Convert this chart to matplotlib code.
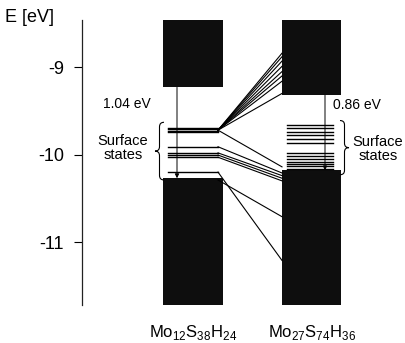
import numpy as np
import matplotlib
matplotlib.use("Agg")
import matplotlib.pyplot as plt
from matplotlib.path import Path
from matplotlib.patches import PathPatch

plt.rcParams['font.family'] = ['Liberation Sans', 'DejaVu Sans']
plt.rcParams['mathtext.fontset'] = 'custom'
plt.rcParams['mathtext.rm'] = 'Liberation Sans'

# energy range shown on the axis (eV)
e_top, e_bottom = -8.46, -11.72
y_ticks = [-9, -10, -11]
y_ticklabels = ['-9', '-10', '-11']

# band edges (LUMO band bottom / HOMO band top), eV
clusters = ['Mo$_{12}$S$_{38}$H$_{24}$', 'Mo$_{27}$S$_{74}$H$_{36}$']
lumo = [-9.23, -9.32]
homo = [-10.27, -10.18]
gaps = ['1.04 eV', '0.86 eV']

# surface state levels, eV
surf_left = [-9.69, -9.71, -9.73, -9.745, -9.91, -9.98, -10.005, -10.03, -10.20]
surf_right = [-9.66, -9.70, -9.74, -9.78, -9.82, -9.87, -9.98, -10.02,
              -10.05, -10.09, -10.11, -10.13, -10.16]

# correlation lines between the two clusters (left level -> right level)
conn_left = [-9.72, -9.72, -9.72, -9.72, -9.72, -9.72, -9.72, -9.72,
             -9.72, -9.91, -9.98, -10.005, -10.03, -10.20, -10.29]
conn_right = [-8.84, -8.88, -8.93, -8.99, -9.05, -9.10, -9.16, -9.30,
              -10.14, -10.21, -10.24, -10.27, -10.30, -11.21, -10.71]

# horizontal layout (pixel-like units)
bx_left = (163, 223)
bx_right = (282, 341)
lvl_left = (168, 218)
lvl_right = (287, 333)

fig = plt.figure(figsize=(4.06, 3.43), dpi=100)
ax = fig.add_axes([82/406, 38/343, 324/406, 285/343])
ax.set_xlim(82, 406)
ax.set_ylim(e_bottom, e_top)
for s in ['top', 'right', 'bottom']:
    ax.spines[s].set_visible(False)
ax.spines['left'].set_linewidth(0.9)
ax.spines['left'].set_color('#222222')
ax.set_xticks([])
ax.set_yticks(y_ticks)
ax.set_yticklabels(y_ticklabels, fontsize=13)
ax.tick_params(axis='y', direction='out', length=6, width=0.8, pad=7)

band_col = '#0e0e0e'
for (x0, x1), lo, hi in zip([bx_left, bx_right], lumo, homo):
    ax.fill_between([x0, x1], lo, e_top, color=band_col, lw=0)
    ax.fill_between([x0, x1], e_bottom, hi, color=band_col, lw=0)

for e in surf_left:
    ax.plot(lvl_left, [e, e], color='k', lw=1.0)
for e in surf_right:
    ax.plot(lvl_right, [e, e], color='k', lw=1.0)

for el, er in zip(conn_left, conn_right):
    ax.plot([lvl_left[1], bx_right[0]], [el, er], color='k', lw=0.8)

# band gap arrows
for xa, lo, hi in zip([177, 325], lumo, homo):
    ax.annotate('', xy=(xa, hi), xytext=(xa, lo),
                arrowprops=dict(arrowstyle='-|>', lw=0.7, color='k',
                                mutation_scale=6, shrinkA=0, shrinkB=0))

ax.text(103, -9.42, gaps[0], fontsize=10, ha='left', va='center')
ax.text(333, -9.43, gaps[1], fontsize=10, ha='left', va='center',
        clip_on=False)


def brace(xe, xt, y0, y1):
    # curly brace from y0 (top) to y1 (bottom); ends at xe, tip at xt
    xm = (xe + xt) / 2
    ym = (y0 + y1) / 2
    r = (y0 - y1) * 0.08
    verts = [(xe, y0), (xm, y0), (xm, y0 - r),
             (xm, ym + r), (xm, ym), (xt, ym),
             (xm, ym), (xm, ym - r),
             (xm, y1 + r), (xm, y1), (xe, y1)]
    codes = [Path.MOVETO, Path.CURVE3, Path.CURVE3,
             Path.LINETO, Path.CURVE3, Path.CURVE3,
             Path.CURVE3, Path.CURVE3,
             Path.LINETO, Path.CURVE3, Path.CURVE3]
    ax.add_patch(PathPatch(Path(verts, codes), fill=False, lw=0.8,
                           color='k', clip_on=False))


brace(164, 155, -9.63, -10.29)
brace(340, 349, -9.61, -10.23)

ax.text(123, -9.92, 'Surface\nstates', fontsize=10.5, ha='center', va='center',
        linespacing=1.0)
ax.text(378, -9.94, 'Surface\nstates', fontsize=10.5, ha='center', va='center',
        linespacing=1.0, clip_on=False)

for xc, name in zip([193, 312], clusters):
    ax.text(xc, -12.04, name, fontsize=12, ha='center', va='center',
            clip_on=False)

fig.text(5/406, 1 - 18/343, 'E [eV]', fontsize=13, ha='left', va='center')

fig.savefig('out.png', dpi=100)
